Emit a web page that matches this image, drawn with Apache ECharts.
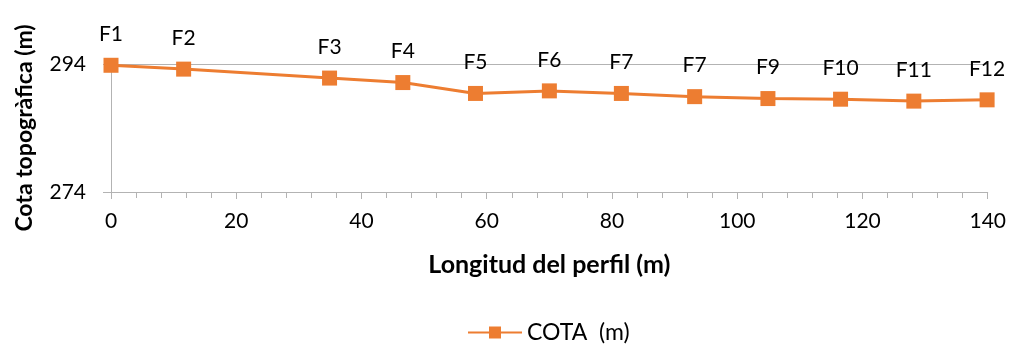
<!DOCTYPE html>
<html>
<head>
<meta charset="utf-8">
<script src="https://cdn.jsdelivr.net/npm/echarts@6/dist/echarts.min.js"></script>
<style>
html,body{margin:0;padding:0;background:#fff;}
#chart{width:1009px;height:344px;}
</style>
</head>
<body>
<div id="chart"></div>
<script>
const distances = [0, 11.6, 34.9, 46.6, 58.2, 70.0, 81.5, 93.2, 104.9, 116.5, 128.2, 139.9];
const elevations = [293.8, 293.2, 291.8, 291.1, 289.4, 289.8, 289.4, 288.9, 288.6, 288.5, 288.2, 288.4];
const pointLabels = ['F1','F2','F3','F4','F5','F6','F7','F7','F9','F10','F11','F12'];
const seriesName = 'COTA  (m)';
const xTitle = 'Longitud del perfil (m)';
const yTitle = 'Cota topogràfica (m)';

const FONT = 'Lato, "Open Sans", sans-serif';
const seriesData = distances.map((d, i) => ({ value: [d, elevations[i]], name: pointLabels[i] }));

const chart = echarts.init(document.getElementById('chart'), null, { renderer: 'canvas' });
chart.setOption({
  animation: false,
  textStyle: { fontFamily: FONT },
  grid: { left: 111, right: 20, top: 64, bottom: 152 },
  legend: {
    top: 321,
    left: 467,
    padding: 0,
    itemWidth: 54,
    itemHeight: 15,
    itemGap: 10,
    textStyle: { fontSize: 23, color: '#000', fontFamily: FONT },
    data: [seriesName]
  },
  xAxis: {
    type: 'value',
    min: 0, max: 140, interval: 20,
    name: xTitle,
    nameLocation: 'middle',
    nameGap: 60,
    nameTextStyle: { fontSize: 25, fontWeight: 'bold', color: '#000', fontFamily: FONT },
    axisLine: { show: true, lineStyle: { color: '#b3b3b3', width: 1 } },
    axisTick: { show: true, length: 7, lineStyle: { color: '#b3b3b3' } },
    minorTick: { show: true, splitNumber: 5, length: 6, lineStyle: { color: '#b3b3b3' } },
    axisLabel: { fontSize: 21, color: '#000', margin: 19, fontFamily: FONT },
    splitLine: { show: false }
  },
  yAxis: {
    type: 'value',
    min: 274, max: 294, interval: 20,
    name: yTitle,
    nameLocation: 'middle',
    nameGap: 75,
    nameTextStyle: { fontSize: 23, fontWeight: 'bold', color: '#000', fontFamily: FONT },
    axisLine: { show: true, lineStyle: { color: '#b3b3b3', width: 1 } },
    axisTick: { show: true, length: 8, lineStyle: { color: '#b3b3b3' } },
    axisLabel: { fontSize: 21, color: '#000', margin: 25, fontFamily: FONT },
    splitLine: { show: true, lineStyle: { color: '#b3b3b3', width: 1 } }
  },
  series: [{
    name: seriesName,
    type: 'line',
    data: seriesData,
    symbol: 'rect',
    symbolSize: 15,
    itemStyle: { color: '#ED7D31' },
    lineStyle: { color: '#ED7D31', width: 3 },
    label: {
      show: true,
      position: 'top',
      distance: 13,
      fontSize: 21,
      color: '#000',
      fontFamily: FONT,
      formatter: p => p.name
    }
  }]
});
</script>
</body>
</html>
